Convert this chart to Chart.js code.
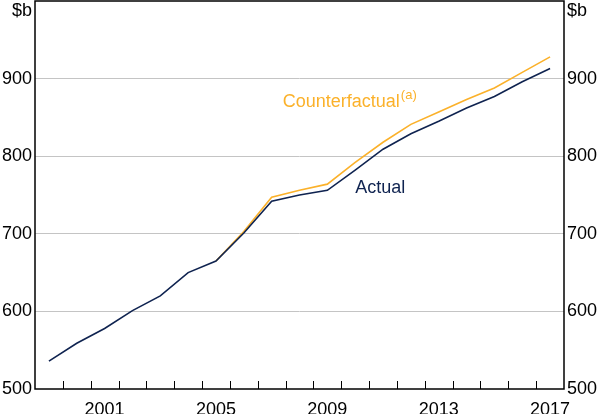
<!DOCTYPE html>
<html>
<head>
<meta charset="utf-8">
<script src="https://cdn.jsdelivr.net/npm/chart.js@4"></script>
<style>
  html, body { margin: 0; padding: 0; background: #fff; }
  #wrap { width: 600px; height: 416px; }
</style>
</head>
<body>
<div id="wrap"><canvas id="chart"></canvas></div>
<script>
// Annual data, plotted at mid-year
const years = [1999, 2000, 2001, 2002, 2003, 2004, 2005, 2006, 2007, 2008, 2009, 2010, 2011, 2012, 2013, 2014, 2015, 2016, 2017];
const actual = [536, 559, 578, 601, 620, 650, 665, 701, 742, 750, 756, 782, 809, 829, 845, 862, 877, 896, 913];
const counterfactual = [null, null, null, null, null, null, 665, 703, 747, 756, 764, 792, 818, 841, 857, 873, 888, 908, 928];
const labelYears = [2001, 2005, 2009, 2013, 2017];
const yTicks = [500, 600, 700, 800, 900];

const NAVY = '#0f2350';
const ORANGE = '#fbb12a';
const FONT = 'Arial, "Liberation Sans", sans-serif';

const toPoints = (vals) => years.map((y, i) => ({ x: y + 0.5, y: vals[i] }));

/**
 * Frame, inner year ticks, unit labels and series labels.
 */
const decorations = {
  id: 'decorations',
  afterDatasetsDraw(chart) {
    const { ctx, chartArea: a, scales } = chart;
    const x = scales.x;
    const y = scales.y;
    ctx.save();

    // year ticks pointing into the plot
    ctx.strokeStyle = '#000';
    ctx.lineWidth = 1;
    ctx.beginPath();
    for (let yr = years[0] + 1; yr <= years[years.length - 1]; yr++) {
      const px = Math.round(x.getPixelForValue(yr)) + 0.5;
      ctx.moveTo(px, a.bottom);
      ctx.lineTo(px, a.bottom - 8);
    }
    ctx.stroke();

    // frame
    ctx.lineWidth = 1.5;
    ctx.strokeRect(a.left, a.top, a.right - a.left, a.bottom - a.top);

    // unit labels
    ctx.fillStyle = '#000';
    ctx.font = '18px ' + FONT;
    ctx.textBaseline = 'middle';
    ctx.textAlign = 'right';
    ctx.fillText('$b', a.left - 3, a.top + 10);
    ctx.textAlign = 'left';
    ctx.fillText('$b', a.right + 3, a.top + 10);

    // series labels
    ctx.textBaseline = 'alphabetic';
    ctx.fillStyle = ORANGE;
    const cx = x.getPixelForValue(2007.9);
    const cy = y.getPixelForValue(863);
    ctx.fillText('Counterfactual', cx, cy);
    const w = ctx.measureText('Counterfactual').width;
    ctx.font = '13px ' + FONT;
    ctx.fillText('(a)', cx + w + 1, cy - 8);

    ctx.font = '18px ' + FONT;
    ctx.fillStyle = NAVY;
    ctx.fillText('Actual', x.getPixelForValue(2010.5), y.getPixelForValue(752));

    ctx.restore();
  }
};

const yAxis = (position, showGrid) => ({
  type: 'linear',
  position,
  min: 500,
  max: 1000,
  afterBuildTicks(scale) {
    scale.ticks = yTicks.map(v => ({ value: v }));
  },
  afterFit(scale) {
    scale.width = 33;
    scale.paddingTop = 0;
  },
  ticks: {
    color: '#000',
    padding: 3,
    font: { family: FONT, size: 18 }
  },
  grid: {
    display: showGrid,
    drawTicks: false,
    color: (c) => (c.tick && c.tick.value === 500 ? 'rgba(0,0,0,0)' : '#c4c4c4'),
    lineWidth: 1
  },
  border: { display: false }
});

new Chart(document.getElementById('chart'), {
  type: 'line',
  data: {
    datasets: [
      {
        label: 'Actual',
        data: toPoints(actual),
        borderColor: NAVY,
        borderWidth: 1.6,
        pointRadius: 0,
        tension: 0,
        order: 1
      },
      {
        label: 'Counterfactual',
        data: toPoints(counterfactual),
        borderColor: ORANGE,
        borderWidth: 1.6,
        pointRadius: 0,
        tension: 0,
        spanGaps: false,
        order: 2
      }
    ]
  },
  options: {
    responsive: true,
    maintainAspectRatio: false,
    animation: false,
    layout: { padding: { left: 2, right: 3, top: 1, bottom: 2 } },
    plugins: {
      legend: { display: false },
      tooltip: { enabled: false }
    },
    scales: {
      x: {
        type: 'linear',
        min: years[0],
        max: years[years.length - 1] + 1,
        afterBuildTicks(scale) {
          scale.ticks = labelYears.map(v => ({ value: v + 0.5 }));
        },
        afterFit(scale) {
          scale.height = 25;
          scale.paddingLeft = 0;
          scale.paddingRight = 0;
        },
        ticks: {
          color: '#000',
          padding: 12,
          maxRotation: 0,
          autoSkip: false,
          font: { family: FONT, size: 18, lineHeight: 1 },
          callback(val) { return String(Math.floor(val)); }
        },
        grid: { display: false, drawTicks: false },
        border: { display: false }
      },
      y: yAxis('left', true),
      y2: yAxis('right', false)
    }
  },
  plugins: [decorations]
});
</script>
</body>
</html>
